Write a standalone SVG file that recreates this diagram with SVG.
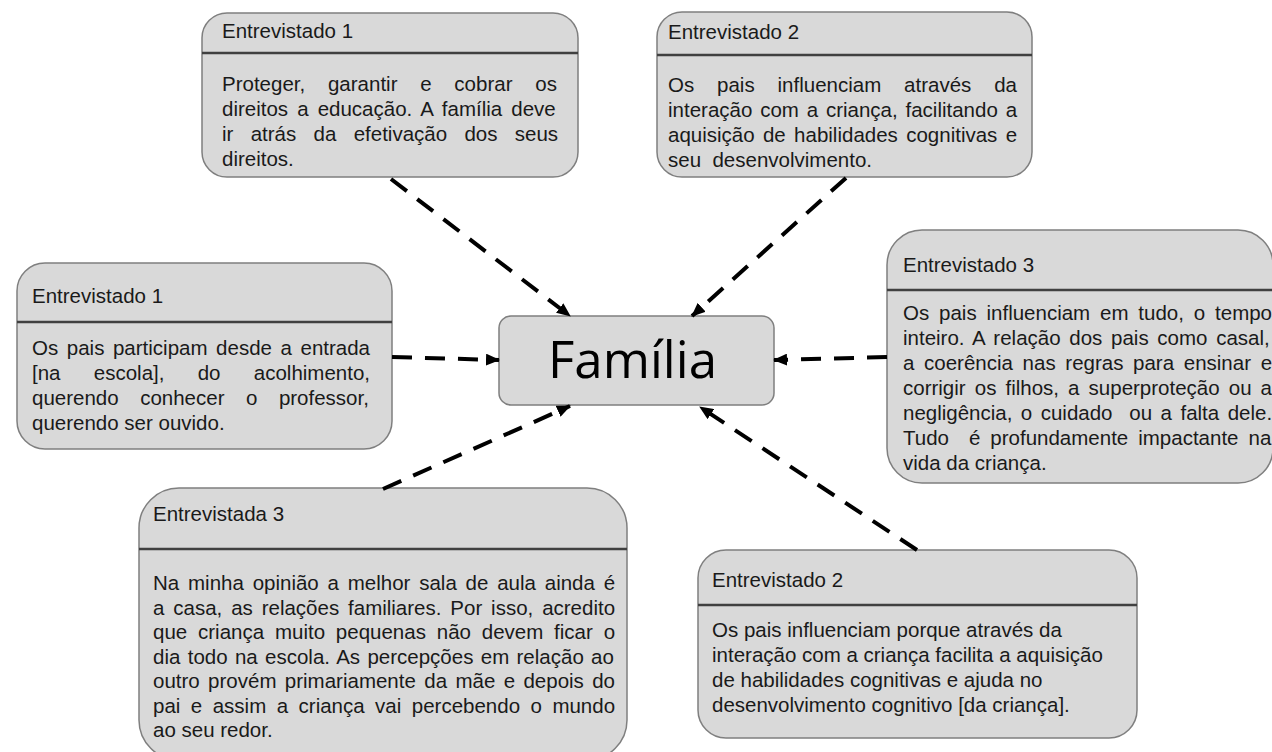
<svg xmlns="http://www.w3.org/2000/svg" width="1272" height="752" viewBox="0 0 1272 752">
<style>
.box{fill:#d9d9d9;stroke:#7f7f7f;stroke-width:1.5}
.hl{stroke:#404040;stroke-width:2.5}
.t{font-family:"Liberation Sans",Arial,sans-serif;font-size:20.5px;fill:#1a1a1a}
.con{fill:none;stroke:#000;stroke-width:4;stroke-dasharray:20 13}
.big{font-family:"Open Sans","Noto Sans",sans-serif;font-size:52px;fill:#000}
</style>
<defs>
<marker id="ah" markerUnits="userSpaceOnUse" markerWidth="14" markerHeight="12" refX="13" refY="6" orient="auto">
<path d="M0,0 L14,6 L0,12 z" fill="#000"/>
</marker>
</defs>
<rect width="1272" height="752" fill="#fff"/>

<g id="center">
<rect class="box" x="499" y="316" width="275" height="89" rx="12"/>
<text class="big" x="548" y="378" textLength="169" lengthAdjust="spacingAndGlyphs">Família</text>
</g>

<g id="box1">
<rect class="box" x="202" y="13" width="376" height="164" rx="25"/>
<line class="hl" x1="202" y1="53" x2="578" y2="53"/>
<text class="t" x="222" y="38">Entrevistado 1</text>
<text class="t" x="222" y="91" word-spacing="17.06">Proteger, garantir e cobrar os</text>
<text class="t" x="222" y="116" word-spacing="3.39">direitos a educação. A família deve</text>
<text class="t" x="222" y="141" word-spacing="11.6">ir atrás da efetivação dos seus</text>
<text class="t" x="222" y="166">direitos.</text>
</g>

<g id="box2">
<rect class="box" x="657" y="12" width="375" height="165" rx="25"/>
<line class="hl" x1="657" y1="55" x2="1032" y2="55"/>
<text class="t" x="668" y="39">Entrevistado 2</text>
<text class="t" x="668" y="91.5" word-spacing="17.18">Os pais influenciam através da</text>
<text class="t" x="668" y="116.5" word-spacing="2.12">interação com a criança, facilitando a</text>
<text class="t" x="668" y="141.5" word-spacing="2.65">aquisição de habilidades cognitivas e</text>
<text class="t" x="668" y="166.5" xml:space="preserve">seu  desenvolvimento.</text>
</g>

<g id="box3">
<rect class="box" x="17" y="263" width="375" height="186" rx="28"/>
<line class="hl" x1="17" y1="322" x2="392" y2="322"/>
<text class="t" x="32" y="303">Entrevistado 1</text>
<text class="t" x="32" y="355" word-spacing="2.88">Os pais participam desde a entrada</text>
<text class="t" x="32" y="380" word-spacing="27.58">[na escola], do acolhimento,</text>
<text class="t" x="32" y="405" word-spacing="15.81">querendo conhecer o professor,</text>
<text class="t" x="32" y="430">querendo ser ouvido.</text>
</g>

<g id="box4">
<rect class="box" x="887" y="230" width="386" height="253" rx="35"/>
<line class="hl" x1="887" y1="290" x2="1273" y2="290"/>
<text class="t" x="903" y="272">Entrevistado 3</text>
<text class="t" x="903" y="320" word-spacing="4.15">Os pais influenciam em tudo, o tempo</text>
<text class="t" x="903" y="345" word-spacing="3.01">inteiro. A relação dos pais como casal,</text>
<text class="t" x="903" y="370" word-spacing="3.96">a coerência nas regras para ensinar e</text>
<text class="t" x="903" y="395" word-spacing="3.39">corrigir os filhos, a superproteção ou a</text>
<text class="t" x="903" y="420" word-spacing="2.74" xml:space="preserve">negligência, o cuidado  ou a falta dele.</text>
<text class="t" x="903" y="445" word-spacing="4.29" xml:space="preserve">Tudo  é profundamente impactante na</text>
<text class="t" x="903" y="470">vida da criança.</text>
</g>

<g id="box5">
<rect class="box" x="139" y="488" width="488" height="272" rx="40"/>
<line class="hl" x1="139" y1="549" x2="627" y2="549"/>
<text class="t" x="153" y="521">Entrevistada 3</text>
<text class="t" x="153" y="590" word-spacing="3.10">Na minha opinião a melhor sala de aula ainda é</text>
<text class="t" x="153" y="614.5" word-spacing="3.18">a casa, as relações familiares. Por isso, acredito</text>
<text class="t" x="153" y="639" word-spacing="5.12">que criança muito pequenas não devem ficar o</text>
<text class="t" x="153" y="663.5" word-spacing="1.63">dia todo na escola. As percepções em relação ao</text>
<text class="t" x="153" y="688" word-spacing="2.68">outro provém primariamente da mãe e depois do</text>
<text class="t" x="153" y="712.5" word-spacing="4.77">pai e assim a criança vai percebendo o mundo</text>
<text class="t" x="153" y="737">ao seu redor.</text>
</g>

<g id="box6">
<rect class="box" x="698" y="550" width="439" height="188" rx="28"/>
<line class="hl" x1="698" y1="605" x2="1137" y2="605"/>
<text class="t" x="712" y="587">Entrevistado 2</text>
<text class="t" x="712" y="637">Os pais influenciam porque através da</text>
<text class="t" x="712" y="662">interação com a criança facilita a aquisição</text>
<text class="t" x="712" y="687">de habilidades cognitivas e ajuda no</text>
<text class="t" x="712" y="712">desenvolvimento cognitivo [da criança].</text>
</g>

<g id="connectors">
<line class="con" x1="391" y1="179" x2="570" y2="316" marker-end="url(#ah)"/>
<line class="con" x1="846" y1="178" x2="692" y2="316" marker-end="url(#ah)"/>
<line class="con" x1="392" y1="357" x2="499" y2="360" marker-end="url(#ah)"/>
<line class="con" x1="887" y1="357" x2="774" y2="360" marker-end="url(#ah)"/>
<line class="con" x1="383" y1="489" x2="570" y2="406" marker-end="url(#ah)"/>
<line class="con" x1="917" y1="550" x2="700" y2="407" marker-end="url(#ah)"/>
</g>
</svg>
